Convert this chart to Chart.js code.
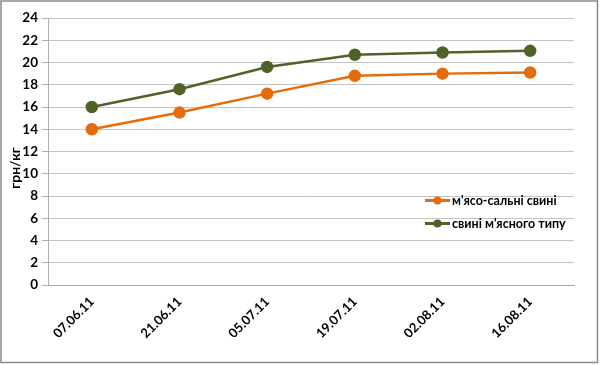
<!DOCTYPE html>
<html>
<head>
<meta charset="utf-8">
<script src="https://cdn.jsdelivr.net/npm/chart.js@4/dist/chart.umd.min.js"></script>
<style>
html,body{margin:0;padding:0;background:#fff;}
canvas{display:block;}
</style>
</head>
<body>
<canvas id="c" width="600" height="365"></canvas>
<script>
const categories = ['07.06.11','21.06.11','05.07.11','19.07.11','02.08.11','16.08.11'];
const seriesNames = ["м'ясо-сальні свині", "свині м'ясного типу"];
const meatFat = [14.0, 15.5, 17.2, 18.8, 19.0, 19.1];
const meatType = [16.0, 17.6, 19.6, 20.7, 20.9, 21.05];
const yTicks = [0,2,4,6,8,10,12,14,16,18,20,22,24];
const yTitle = 'грн/кг';

const ORANGE = '#E46C0A';
const GREEN = '#4F6228';
const FONT = 'Lato, "Open Sans", sans-serif';

const framePlugin = {
  id: 'frame',
  beforeDraw(chart) {
    const ctx = chart.ctx;
    ctx.save();
    ctx.fillStyle = '#fff';
    ctx.fillRect(0, 0, chart.width, chart.height);
    ctx.restore();
  },
  afterDraw(chart) {
    const ctx = chart.ctx;
    ctx.save();
    ctx.strokeStyle = '#8a8a8a';
    ctx.lineWidth = 1.5;
    ctx.strokeRect(1, 1, 596.5, 361.5);
    // y axis title
    ctx.translate(15, 168);
    ctx.rotate(-Math.PI / 2);
    ctx.fillStyle = '#000';
    ctx.font = 'bold 14px ' + FONT;
    ctx.textAlign = 'center';
    ctx.textBaseline = 'middle';
    ctx.fillText(yTitle, 0, 0);
    ctx.restore();
    // legend
    ctx.save();
    const ds = chart.data.datasets;
    const ys = [200.5, 223.5];
    ds.forEach((d, i) => {
      const y = ys[i];
      ctx.strokeStyle = d.borderColor;
      ctx.lineWidth = 3;
      ctx.beginPath();
      ctx.moveTo(425, y);
      ctx.lineTo(450, y);
      ctx.stroke();
      ctx.fillStyle = d.pointBackgroundColor;
      ctx.beginPath();
      ctx.arc(437.5, y, 4, 0, Math.PI * 2);
      ctx.fill();
      ctx.fillStyle = '#000';
      ctx.font = 'bold 12.5px ' + FONT;
      ctx.textAlign = 'left';
      ctx.textBaseline = 'middle';
      ctx.fillText(d.label, 452, y);
    });
    ctx.restore();
  }
};

new Chart(document.getElementById('c'), {
  type: 'line',
  data: {
    labels: categories,
    datasets: [
      {
        label: seriesNames[0],
        data: meatFat,
        borderColor: ORANGE,
        backgroundColor: ORANGE,
        pointBackgroundColor: ORANGE,
        pointBorderColor: ORANGE,
        borderWidth: 2.5,
        pointRadius: 5,
        pointHoverRadius: 5,
        tension: 0
      },
      {
        label: seriesNames[1],
        data: meatType,
        borderColor: GREEN,
        backgroundColor: GREEN,
        pointBackgroundColor: GREEN,
        pointBorderColor: GREEN,
        borderWidth: 2.5,
        pointRadius: 5,
        pointHoverRadius: 5,
        tension: 0
      }
    ]
  },
  options: {
    responsive: false,
    animation: false,
    events: [],
    layout: { padding: { top: 18, right: 26, left: 0, bottom: 0 } },
    plugins: {
      legend: { display: false },
      tooltip: { enabled: false },
      title: { display: false }
    },
    scales: {
      x: {
        offset: true,
        grid: { display: false, drawTicks: false },
        border: { display: true, color: '#a6a6a6', width: 1 },
        ticks: {
          color: '#000',
          font: { family: FONT, size: 13, weight: 'bold' },
          maxRotation: 45,
          minRotation: 45,
          padding: 9,
          autoSkip: false
        },
        afterFit(scale) { scale.height = 80; }
      },
      y: {
        min: 0,
        max: 24,
        afterBuildTicks(scale) { scale.ticks = yTicks.map(v => ({ value: v })); },
        grid: { color: '#c4c4c4', lineWidth: 1, tickLength: 6, tickColor: '#b0b0b0' },
        border: { display: true, color: '#b0b0b0', width: 1 },
        ticks: {
          color: '#000',
          font: { family: FONT, size: 13.5, weight: 'bold' },
          padding: 4
        },
        afterFit(scale) { scale.width = 48; }
      }
    }
  },
  plugins: [framePlugin]
});
</script>
</body>
</html>
